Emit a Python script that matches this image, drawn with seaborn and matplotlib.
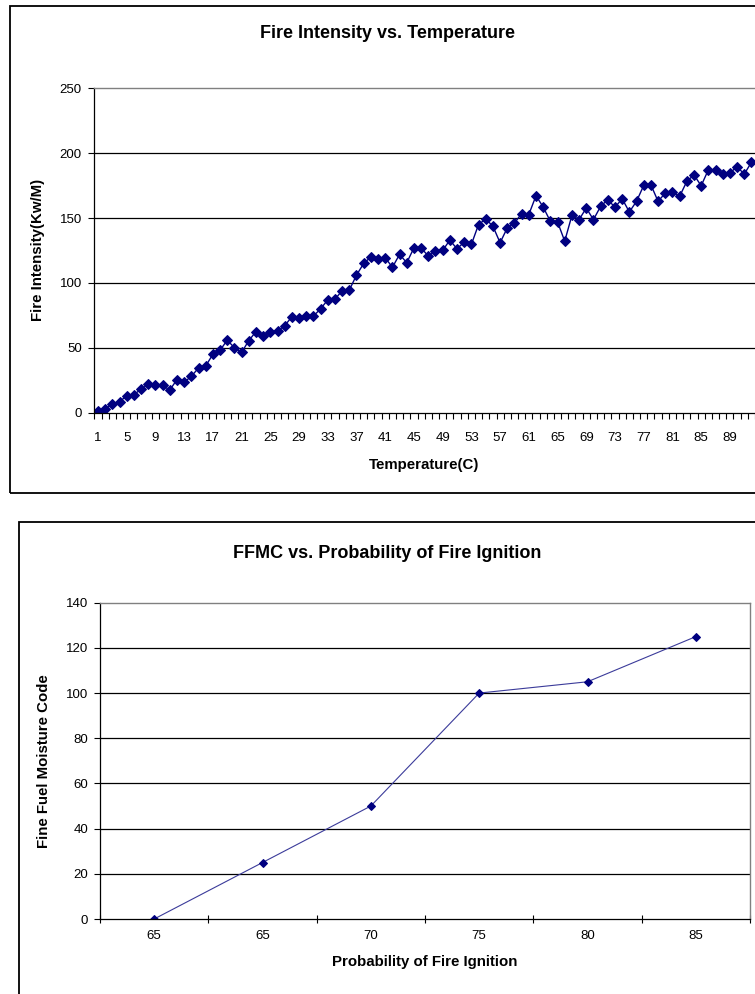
import matplotlib
matplotlib.use("Agg")
import numpy as np
import pandas as pd
import matplotlib.pyplot as plt
import seaborn as sns
from matplotlib.patches import Rectangle

# ---------------- data ----------------
temperature = list(range(1, 93))
fire_intensity = [
    1, 3, 6.5, 8.5, 13, 14, 18, 22, 21, 21,
    17.5, 25.5, 23.5, 28, 34.5, 36, 45, 48, 56, 50,
    46.5, 55.5, 62.5, 59, 62.5, 63, 67, 74, 73, 74.5,
    74.5, 80, 87, 87.5, 94, 94.5, 106, 115, 120, 118.5,
    119.5, 112, 122, 115.6, 127, 127, 120.7, 124.6, 125, 133,
    126.3, 131.5, 129.7, 145, 149.3, 143.7, 131, 142.4, 146.2, 153.4,
    152.7, 167.2, 158.5, 147.5, 147, 132.2, 152, 148.8, 157.7, 148.8,
    159, 164.2, 158.3, 164.9, 154.7, 162.9, 175.1, 175.6, 162.9, 169.2,
    169.8, 166.7, 178.2, 183.3, 174.9, 187.1, 187.1, 184.1, 184.6, 189.7,
    183.8, 193,
]
temp_tick_labels = [str(t) for t in range(1, 93, 4)]
intensity_yticks = [0, 50, 100, 150, 200, 250]

ignition_labels = ["65", "65", "70", "75", "80", "85"]
ffmc_values = [0, 25, 50, 100, 105, 125]
ffmc_yticks = [0, 20, 40, 60, 80, 100, 120, 140]

titles = ["Fire Intensity vs. Temperature", "FFMC vs. Probability of Fire Ignition"]
xlabels = ["Temperature(C)", "Probability of Fire Ignition"]
ylabels = ["Fire Intensity(Kw/M)", "Fine Fuel Moisture Code"]

# ---------------- style ----------------
sns.set_theme(style="white")
plt.rcParams['font.family'] = ['Liberation Sans', 'DejaVu Sans']
plt.rcParams['text.color'] = 'black'

W, H = 755, 994
fig = plt.figure(figsize=(W / 100, H / 100), dpi=100)
fig.patch.set_facecolor("white")

def fx(px):
    return px / W

def fy(py):
    return 1 - py / H

NAVY = "#000080"
TICK_FS = 9.5
TITLE_FS = 13
LABEL_FS = 10.8

# chart frames
fig.add_artist(Rectangle((fx(10), fy(493)), 2, fy(6) - fy(493), transform=fig.transFigure,
                         fill=False, ec="black", lw=1.3))
fig.add_artist(Rectangle((fx(19), -1), 2, fy(522) + 1, transform=fig.transFigure,
                         fill=False, ec="black", lw=1.3))

# ---------------- top chart ----------------
ax1 = fig.add_axes([fx(94.4), fy(412.7), fx(755) - fx(94.4), fy(88.3) - fy(412.7)])
df1 = pd.DataFrame({"Temperature": temperature, "Intensity": fire_intensity})
sns.lineplot(data=df1, x="Temperature", y="Intensity", ax=ax1, color=NAVY, linewidth=1.0,
             marker="D", markersize=5, markeredgecolor=NAVY, markerfacecolor=NAVY)
ax1.set_xlim(0.5, 92.38)
ax1.set_ylim(intensity_yticks[0], intensity_yticks[-1])
ax1.set_yticks(intensity_yticks)
for yv in intensity_yticks[1:-1]:
    ax1.axhline(yv, color="black", lw=0.9, zorder=0)
ax1.set_xticks([int(t) for t in temp_tick_labels])
ax1.set_xticklabels(temp_tick_labels)
ax1.set_xticks(np.arange(0.5, len(temperature) + 1, 1.0), minor=True)
ax1.tick_params(axis="x", which="major", bottom=True, length=0, labelsize=TICK_FS, pad=14, colors="black")
ax1.tick_params(axis="x", which="minor", bottom=True, length=4, width=0.8, direction="out", color="black")
ax1.tick_params(axis="y", left=True, length=4.5, width=0.8, direction="out", labelsize=TICK_FS, pad=4.5,
                colors="black")
for s in ["left", "bottom"]:
    ax1.spines[s].set_color("black")
    ax1.spines[s].set_linewidth(0.9)
ax1.spines["top"].set_color("#808080")
ax1.spines["top"].set_linewidth(1.0)
ax1.spines["right"].set_visible(False)
ax1.set_xlabel("")
ax1.set_ylabel("")

# ---------------- bottom chart ----------------
ax2 = fig.add_axes([fx(100), fy(919), fx(750) - fx(100), fy(602.7) - fy(919)])
positions = list(range(len(ignition_labels)))
df2 = pd.DataFrame({"pos": positions, "FFMC": ffmc_values})
sns.lineplot(data=df2, x="pos", y="FFMC", ax=ax2, color="#3b3b9a", linewidth=0.8,
             marker="D", markersize=4.2, markeredgecolor=NAVY, markerfacecolor=NAVY)
ax2.set_xlim(-0.5, len(ignition_labels) - 0.5)
ax2.set_ylim(ffmc_yticks[0], ffmc_yticks[-1])
ax2.set_yticks(ffmc_yticks)
for yv in ffmc_yticks[1:-1]:
    ax2.axhline(yv, color="black", lw=0.9, zorder=0)
ax2.set_xticks(positions)
ax2.set_xticklabels(ignition_labels)
ax2.set_xticks(np.arange(-0.5, len(ignition_labels), 1.0), minor=True)
ax2.tick_params(axis="x", which="major", bottom=True, length=0, labelsize=TICK_FS, pad=8, colors="black")
ax2.tick_params(axis="x", which="minor", bottom=True, length=6, width=0.8, direction="inout", color="black")
ax2.tick_params(axis="y", left=True, length=4, width=0.8, direction="out", labelsize=TICK_FS, pad=4.5,
                colors="black")
for s in ["left", "bottom"]:
    ax2.spines[s].set_color("black")
    ax2.spines[s].set_linewidth(0.9)
for s in ["top", "right"]:
    ax2.spines[s].set_color("#808080")
    ax2.spines[s].set_linewidth(1.0)
ax2.set_xlabel("")
ax2.set_ylabel("")

# ---------------- texts ----------------
fig.text(fx(387.5), fy(33), titles[0], ha="center", va="center", fontsize=TITLE_FS, fontweight="bold",
         color="black")
fig.text(fx(387), fy(553), titles[1], ha="center", va="center", fontsize=TITLE_FS, fontweight="bold",
         color="black")
fig.text(fx(424), fy(465), xlabels[0], ha="center", va="center", fontsize=LABEL_FS, fontweight="bold",
         color="black")
fig.text(fx(425), fy(962), xlabels[1], ha="center", va="center", fontsize=LABEL_FS, fontweight="bold",
         color="black")
fig.text(fx(38), fy(250), ylabels[0], ha="center", va="center", rotation=90, fontsize=LABEL_FS,
         fontweight="bold", color="black")
fig.text(fx(44), fy(761), ylabels[1], ha="center", va="center", rotation=90, fontsize=LABEL_FS,
         fontweight="bold", color="black")

fig.savefig("out.png", dpi=100, facecolor="white")
